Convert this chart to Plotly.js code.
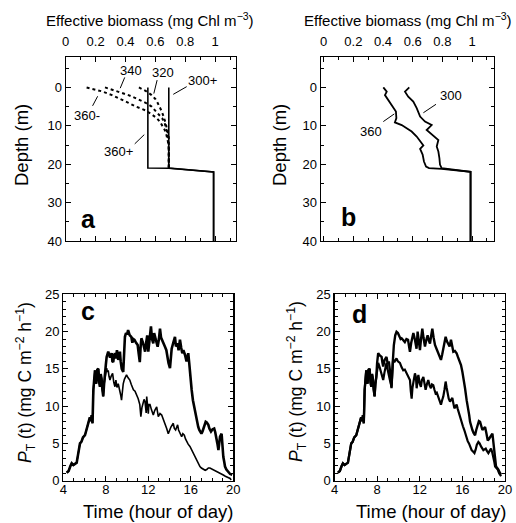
<!DOCTYPE html>
<html><head><meta charset="utf-8">
<script src="https://cdn.plot.ly/plotly-3.0.1.min.js"></script>
<style>html,body{margin:0;padding:0;background:#fff}#chart{width:516px;height:523px}</style>
</head><body><div id="chart"></div>
<script>
// ---------- Panel a: effective biomass profiles ----------
const a300pDepth = [0, 21, 22, 40];
const a300pVal   = [0.69, 0.69, 0.99, 0.99];
const a360pDepth = [0, 21, 21.05, 22, 40];
const a360pVal   = [0.55, 0.55, 0.69, 0.99, 0.99];
const a320Depth = [0, 1, 2, 3, 4, 5, 6, 7, 8, 9, 10, 11, 12, 13, 15, 18, 21];
const a320Val   = [0.49, 0.54, 0.575, 0.6, 0.615, 0.63, 0.64, 0.65, 0.66, 0.667, 0.673, 0.68, 0.685, 0.69, 0.69, 0.69, 0.69];
const a340Depth = [0, 1, 2, 3, 4, 5, 6, 7, 8, 9, 10, 11, 12, 13, 14, 15, 18, 21];
const a340Val   = [0.263, 0.35, 0.42, 0.48, 0.535, 0.575, 0.6, 0.625, 0.645, 0.66, 0.67, 0.675, 0.68, 0.685, 0.688, 0.69, 0.69, 0.69];
const a360mDepth = [0, 1, 2, 3, 4, 5, 6, 7, 8, 9, 10, 11, 12, 13, 14, 15, 16, 18, 21];
const a360mVal   = [0.14, 0.24, 0.31, 0.37, 0.42, 0.47, 0.535, 0.575, 0.61, 0.632, 0.65, 0.662, 0.672, 0.679, 0.684, 0.687, 0.69, 0.69, 0.69];

// ---------- Panel b ----------
const b300Depth = [0, 1.1, 2.4, 3.7, 5.4, 7.6, 8.9, 9.8, 11.1, 12.8, 13.7, 15.4, 16.7, 18.4, 20.1, 21, 22, 40];
const b300Val   = [0.577, 0.548, 0.57, 0.604, 0.627, 0.65, 0.683, 0.728, 0.694, 0.75, 0.773, 0.762, 0.773, 0.78, 0.784, 0.795, 0.99, 0.99];
const b360Depth = [0, 1.1, 2, 3.3, 5, 6.3, 8, 9.1, 9.8, 10.6, 11.5, 12.8, 14.1, 15.1, 16, 17.5, 19.3, 20.6, 21, 21.2, 22, 40];
const b360Val   = [0.402, 0.425, 0.413, 0.436, 0.47, 0.487, 0.49, 0.48, 0.526, 0.56, 0.593, 0.627, 0.65, 0.672, 0.65, 0.667, 0.676, 0.69, 0.71, 0.795, 0.99, 0.99];

// ---------- Panels c, d: shared morning part ----------
const earlyT = [4.32,4.5,4.65,4.79,4.95,5.1,5.26,5.4,5.57,5.7,5.85,6.04,6.2,6.35,6.5,6.6,6.67,6.75,6.83,6.98,7.1,7.2,7.3,7.38,7.45,7.52,7.6,7.68,7.76,7.84,7.92];
const earlyP = [1.07,1.3,1.9,2.33,2.1,2.3,2.42,3.6,5.0,5.2,5.8,6.1,7.0,7.9,8.5,8.0,8.8,7.7,12.2,14.8,13.0,14.9,15.0,13.2,12.6,14.3,13.7,12.2,11.3,13.0,13.9];

// Panel c upper
const cHiT = [8.0,8.08,8.15,8.23,8.4,8.55,8.62,8.7,8.78,8.86,8.95,9.05,9.17,9.25,9.33,9.4,9.5,9.64,9.72,9.8,9.9,10.0,10.1,10.25,10.4,10.5,10.6,10.7,10.85,11.0,11.1,11.2,11.28,11.35,11.5,11.6,11.7,11.8,11.9,12.0,12.1,12.25,12.35,12.47,12.55,12.63,12.75,12.88,13.0,13.1,13.2,13.3,13.45,13.57,13.7,13.8,13.9,14.04,14.1,14.2,14.35,14.51,14.6,14.76,14.85,14.98,15.1,15.2,15.3,15.45,15.6,15.76,15.85,15.92,16.0,16.08,16.2,16.3,16.39,16.5,16.6,16.7,16.8,16.9,17.0,17.1,17.2,17.3,17.4,17.5,17.65,17.75,17.9,18.05,18.2,18.3,18.4,18.5,18.6,18.68,18.75,18.9,18.98,19.06,19.15,19.22,19.35,19.5,19.7,19.9];
const cHiP = [15.5,16.6,17.0,17.3,16.5,17.1,16.0,15.9,16.8,17.1,16.4,17.5,16.2,16.8,17.3,16.0,15.0,14.6,17.5,19.3,19.8,19.6,20.2,19.5,19.3,18.5,19.0,18.9,18.5,18.2,17.0,15.9,18.0,19.1,18.5,17.8,17.3,18.5,19.5,17.3,18.5,20.7,19.0,18.4,19.8,19.3,18.5,17.96,19.0,20.4,19.2,18.9,18.5,17.96,17.5,16.6,15.8,15.1,16.5,17.7,18.5,19.3,18.0,18.4,17.5,18.9,17.8,17.1,17.5,16.9,16.0,17.1,15.8,14.4,13.2,12.2,10.8,10.0,9.5,8.6,7.9,7.2,6.8,6.5,6.3,6.6,7.0,7.5,7.9,7.8,7.5,7.0,6.6,6.9,7.0,6.5,5.9,5.0,4.1,5.2,5.9,6.3,4.5,3.2,2.5,1.9,1.5,1.2,0.9,0.8];
// Panel c lower
const cLoT = [8.0,8.08,8.15,8.23,8.3,8.39,8.5,8.64,8.75,8.86,8.95,9.05,9.17,9.25,9.33,9.4,9.48,9.56,9.64,9.75,9.85,9.95,10.1,10.26,10.4,10.6,10.75,10.9,11.05,11.2,11.3,11.4,11.5,11.6,11.69,11.8,11.85,12.0,12.05,12.16,12.3,12.47,12.6,12.79,12.94,13.1,13.26,13.4,13.57,13.73,13.88,14.0,14.13,14.35,14.45,14.57,14.76,14.85,14.98,15.14,15.25,15.39,15.5,15.6,15.75,15.92,16.1,16.23,16.4,16.55,16.7,16.86,17.0,17.18,17.35,17.5,17.65,17.8,17.95,18.1,18.25,18.4,18.55,18.75,18.9,19.06,19.25,19.4,19.55,19.7,19.8];
const cLoP = [14.5,15.1,14.6,14.8,14.0,13.5,14.0,14.4,13.2,12.6,13.5,12.5,13.0,12.6,12.2,11.5,10.8,12.0,13.0,13.6,14.0,14.2,13.8,13.5,12.9,12.2,12.0,11.5,11.0,10.2,8.6,9.8,10.4,10.9,10.6,9.1,11.3,9.0,10.2,10.2,9.5,8.8,9.4,9.9,8.6,9.0,8.8,8.3,7.7,7.0,6.3,6.8,7.2,7.7,7.0,6.8,7.5,6.8,6.3,5.9,6.3,6.1,5.6,5.2,4.9,4.6,4.1,3.7,3.2,2.8,2.3,1.9,1.7,1.5,1.4,1.5,1.7,1.7,1.6,1.5,1.4,1.2,1.1,1.0,0.9,0.76,0.6,0.5,0.35,0.3,0.1];

// Panel d upper
const dHiT = [8.0,8.1,8.25,8.42,8.5,8.57,8.7,8.88,9.0,9.1,9.2,9.28,9.35,9.45,9.57,9.7,9.82,9.95,10.07,10.2,10.3,10.45,10.6,10.75,10.9,11.0,11.08,11.2,11.4,11.55,11.7,11.8,11.9,12.02,12.12,12.24,12.35,12.49,12.6,12.74,12.85,12.96,13.08,13.18,13.3,13.43,13.6,13.74,13.88,13.99,14.1,14.21,14.32,14.43,14.55,14.68,14.8,14.93,15.05,15.15,15.3,15.46,15.58,15.68,15.87,16.0,16.09,16.25,16.4,16.56,16.64,16.72,16.82,16.94,17.05,17.19,17.3,17.44,17.55,17.66,17.78,17.88,18.0,18.13,18.25,18.38,18.5,18.6,18.72,18.82,18.92,19.01,19.1,19.16,19.27,19.38,19.5,19.63];
const dHiP = [15.8,17.1,16.8,16.6,15.8,15.3,16.2,16.6,15.6,16.0,14.8,13.5,12.4,15.5,18.2,19.5,19.97,19.8,19.5,19.0,19.1,18.8,18.6,19.0,18.9,18.0,17.3,18.5,19.8,18.9,17.7,20.0,19.0,17.5,19.0,20.4,19.2,18.0,18.8,19.5,18.8,18.4,19.5,20.4,19.2,18.2,17.6,17.1,16.6,16.2,16.9,17.7,18.5,19.3,18.7,18.4,18.0,18.9,18.0,17.3,17.4,17.1,16.6,16.2,15.5,14.6,13.9,12.4,10.8,9.7,8.8,7.9,7.3,6.8,6.4,6.1,6.8,7.7,8.0,7.9,7.3,6.8,7.0,7.2,6.4,5.4,5.6,5.9,6.1,6.3,5.0,3.7,2.7,1.9,1.7,1.5,1.1,0.8];
// Panel d lower
const dLoT = [8.0,8.1,8.26,8.4,8.57,8.7,8.88,9.0,9.1,9.2,9.35,9.42,9.5,9.65,9.82,9.95,10.14,10.3,10.45,10.6,10.76,10.9,11.08,11.16,11.24,11.32,11.4,11.55,11.64,11.71,11.8,11.87,12.0,12.11,12.2,12.34,12.45,12.55,12.68,12.8,12.92,13.05,13.15,13.27,13.38,13.49,13.6,13.74,13.87,13.99,14.1,14.21,14.32,14.43,14.52,14.62,14.72,14.84,14.95,15.06,15.15,15.25,15.36,15.46,15.57,15.68,15.8,15.93,16.05,16.18,16.3,16.4,16.5,16.62,16.75,16.87,17.0,17.13,17.25,17.35,17.5,17.62,17.75,17.86,17.97,18.08,18.19,18.3,18.44,18.56,18.69,18.8,18.91,19.0,19.07,19.2,19.32,19.45,19.63];
const dLoP = [15.0,15.8,15.1,14.4,13.5,14.6,15.8,14.8,14.0,13.5,12.6,14.0,16.2,16.0,16.4,16.0,15.8,15.2,14.8,14.9,14.4,14.0,13.5,12.0,11.0,12.5,13.1,14.4,13.9,12.4,13.5,14.2,13.0,12.6,13.5,13.9,13.0,12.2,13.0,13.5,12.8,12.4,12.9,12.8,12.2,11.7,11.8,11.3,10.8,10.2,10.8,11.3,12.2,13.3,12.5,11.7,11.0,10.6,10.9,11.1,10.4,9.7,10.0,10.2,9.6,9.0,8.5,7.9,7.3,6.8,6.2,5.7,5.3,5.0,4.5,4.1,3.9,3.7,4.2,4.8,5.2,5.0,4.6,4.3,4.1,4.2,4.3,4.0,3.7,4.0,4.3,3.8,3.2,2.5,1.9,1.7,1.5,1.0,0.6];

// Tick labels
const bioTicks = [0, 0.2, 0.4, 0.6, 0.8, 1];
const bioTickText = ['0', '0.2', '0.4', '0.6', '0.8', '1'];
const depthTicks = [0, 10, 20, 30, 40];
const timeTicks = [4, 8, 12, 16, 20];
const prodTicks = [0, 5, 10, 15, 20, 25];

// ---------- build ----------
const W = 516, H = 523;
const px = x => x / W, py = y => 1 - y / H;
const FONT = 'Liberation Sans, Arial, Helvetica, sans-serif';
const K = '#000';

function ln(x, y, xa, ya, width, dash) {
  return {x: x, y: y, xaxis: xa, yaxis: ya, type: 'scatter', mode: 'lines',
          line: {color: K, width: width, dash: dash || 'solid'}, hoverinfo: 'skip', showlegend: false};
}
const cat = (a, b) => a.concat(b);

const data = [
  ln(a300pVal, a300pDepth, 'x', 'y', 1.6),
  ln(a360pVal, a360pDepth, 'x', 'y', 1.6),
  ln(a320Val, a320Depth, 'x', 'y', 2, 'dot'),
  ln(a340Val, a340Depth, 'x', 'y', 2, 'dot'),
  ln(a360mVal, a360mDepth, 'x', 'y', 2, 'dot'),
  ln(b300Val, b300Depth, 'x2', 'y2', 1.8),
  ln(b360Val, b360Depth, 'x2', 'y2', 1.8),
  ln(cat(earlyT, cHiT), cat(earlyP, cHiP), 'x3', 'y3', 2.6),
  ln(cat(earlyT, cLoT), cat(earlyP, cLoP), 'x3', 'y3', 1.6),
  ln(cat(earlyT, dHiT), cat(earlyP, dHiP), 'x4', 'y4', 2.4),
  ln(cat(earlyT, dLoT), cat(earlyP, dLoP), 'x4', 'y4', 2.2)
];

const tickfont = {family: FONT, size: 13, color: K};
function ax(extra) {
  return Object.assign({
    showgrid: false, zeroline: false, showline: true, linecolor: K, linewidth: 1.2,
    mirror: 'ticks', ticks: 'inside', ticklen: 5, tickwidth: 1, tickcolor: K,
    tickfont: tickfont, fixedrange: true
  }, extra);
}

const bioX = (dom, r) => ax({domain: dom, range: r, side: 'top', tickvals: bioTicks, ticktext: bioTickText,
  minor: {ticks: 'inside', ticklen: 3, dtick: 0.1, tick0: 0, tickcolor: K}, ticklabelstandoff: 4});
const depthY = (dom, anchor) => ax({domain: dom, range: [40, -8], anchor: anchor, tickvals: depthTicks,
  minor: {ticks: 'inside', ticklen: 3, dtick: 5, tick0: 0, tickcolor: K}, ticklabelstandoff: 0});
const timeX = (dom, anchor) => ax({domain: dom, range: [4, 20], anchor: anchor, tickvals: timeTicks,
  minor: {ticks: 'inside', ticklen: 3, dtick: 1, tick0: 0, tickcolor: K}, ticklabelstandoff: -4});
const prodY = (dom, anchor) => ax({domain: dom, range: [0, 25], anchor: anchor, tickvals: prodTicks,
  minor: {ticks: 'inside', ticklen: 3, dtick: 1, tick0: 0, tickcolor: K}, ticklabelstandoff: 0});

const topDomY = [py(241), py(56.7)];
const botDomY = [py(480.7), py(294.3)];

const layout = {
  width: W, height: H, margin: {l: 0, r: 0, t: 0, b: 0},
  paper_bgcolor: '#fff', plot_bgcolor: '#fff', showlegend: false,
  font: {family: FONT, color: K},
  xaxis:  Object.assign(bioX([px(65.7), px(236)], [0, 1.14]), {anchor: 'y'}),
  yaxis:  depthY(topDomY, 'x'),
  xaxis2: Object.assign(bioX([px(320.7), px(494)], [-0.02, 1.148]), {anchor: 'y2'}),
  yaxis2: depthY(topDomY, 'x2'),
  xaxis3: timeX([px(63.3), px(233.3)], 'y3'),
  yaxis3: prodY(botDomY, 'x3'),
  xaxis4: timeX([px(334.5), px(505)], 'y4'),
  yaxis4: prodY(botDomY, 'x4'),
  annotations: [],
  shapes: []
};

function note(text, x, y, size, opts) {
  layout.annotations.push(Object.assign({text: text, xref: 'paper', yref: 'paper', x: px(x), y: py(y),
    xanchor: 'center', yanchor: 'middle', showarrow: false, font: {family: FONT, size: size, color: K}}, opts || {}));
}
const bioTitle = 'Effective biomass (mg Chl m<sup>−3</sup>)';
note(bioTitle, 150, 20, 15);
note(bioTitle, 408, 20, 15);
note('Depth (m)', 21, 145, 18.5, {textangle: -90});
note('Depth (m)', 279, 145, 18.5, {textangle: -90});
const pTitle = '<i>P</i><sub>T</sub> (t) (mg C m<sup>−2</sup> h<sup>−1</sup>)';
note(pTitle, 25, 383, 17.5, {textangle: -90});
note(pTitle, 296, 382, 17.5, {textangle: -90});
note('Time (hour of day)', 157.5, 511, 18.5);
note('Time (hour of day)', 430.5, 511, 18.5);
// panel letters
const bold = {font: {family: FONT, size: 25, color: K, weight: 900}};
note('<b>a</b>', 88.5, 219, 25, bold);
note('<b>b</b>', 348.5, 217, 25, bold);
note('<b>c</b>', 88, 311, 25, bold);
note('<b>d</b>', 359, 314, 25, bold);

// curve labels (data coordinates)
function dlab(text, xa, ya, x, y) {
  layout.annotations.push({text: text, xref: xa, yref: ya, x: x, y: y, xanchor: 'center', yanchor: 'middle',
    showarrow: false, font: {family: FONT, size: 13, color: K}});
}
function lead(xa, ya, x0, y0, x1, y1) {
  layout.shapes.push({type: 'line', xref: xa, yref: ya, x0: x0, y0: y0, x1: x1, y1: y1, line: {color: K, width: 1}});
}
dlab('340', 'x', 'y', 0.44, -4.3);
lead('x', 'y', 0.395, -2.6, 0.365, 0.2);
dlab('320', 'x', 'y', 0.654, -4.0);
lead('x', 'y', 0.612, -1.9, 0.59, 1.6);
dlab('300+', 'x', 'y', 0.915, -1.9);
lead('x', 'y', 0.81, -0.2, 0.72, 1.8);
dlab('360-', 'x', 'y', 0.145, 7.2);
lead('x', 'y', 0.18, 4.8, 0.214, 2.3);
dlab('360+', 'x', 'y', 0.352, 16.7);
lead('x', 'y', 0.462, 14.7, 0.526, 12.3);
dlab('300', 'x2', 'y2', 0.86, 2.0);
lead('x2', 'y2', 0.757, 4.4, 0.672, 6.6);
dlab('360', 'x2', 'y2', 0.32, 11.6);
lead('x2', 'y2', 0.402, 8.9, 0.476, 6.9);

Plotly.newPlot('chart', data, layout, {staticPlot: true, displayModeBar: false});
</script></body></html>
